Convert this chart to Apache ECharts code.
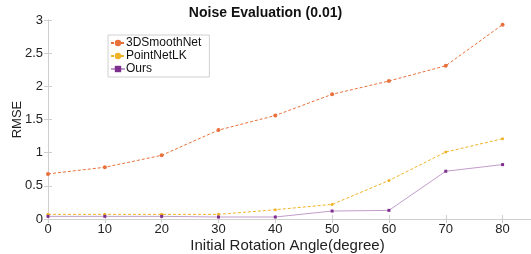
<!DOCTYPE html>
<html>
<head>
<meta charset="utf-8">
<script src="https://cdn.jsdelivr.net/npm/echarts@6/dist/echarts.min.js"></script>
<style>
  html, body { margin: 0; padding: 0; background: #fff; }
  #chart { width: 531px; height: 254px; }
</style>
</head>
<body>
<div id="chart"></div>
<script>
const angles = [0, 10, 20, 30, 40, 50, 60, 70, 80];
const smoothNet = [0.68, 0.78, 0.96, 1.34, 1.56, 1.88, 2.08, 2.31, 2.93];
const pointNetLK = [0.07, 0.07, 0.07, 0.07, 0.14, 0.22, 0.58, 1.01, 1.21];
const ours = [0.04, 0.04, 0.04, 0.03, 0.03, 0.12, 0.13, 0.72, 0.82];

const pairs = vals => angles.map((a, i) => [a, vals[i]]);
const font = 'Liberation Sans, Arial, sans-serif';
const axisCol = '#cfcfcf';

const chart = echarts.init(document.getElementById('chart'));
chart.setOption({
  animation: false,
  title: {
    text: 'Noise Evaluation (0.01)',
    left: 'center',
    top: 1,
    textStyle: { fontFamily: font, fontSize: 14, fontWeight: 'bold', color: '#111' }
  },
  legend: {
    left: 108,
    top: 35,
    orient: 'vertical',
    itemWidth: 14,
    itemHeight: 8,
    itemGap: 1,
    padding: [2, 8, 2, 2],
    borderColor: '#d0d0d0',
    borderWidth: 1,
    backgroundColor: '#fff',
    textStyle: { fontFamily: font, fontSize: 12, lineHeight: 12, color: '#111', padding: [0, 0, 0, -4] },
    data: ['3DSmoothNet', 'PointNetLK', 'Ours']
  },
  grid: { left: 48, right: 0, top: 20, bottom: 35, outerBoundsMode: 'none' },
  xAxis: [{
    type: 'value', min: 0, max: 85, interval: 10,
    name: 'Initial Rotation Angle(degree)',
    nameLocation: 'middle', nameGap: 19, nameMoveOverlap: false,
    nameTextStyle: { fontFamily: font, fontSize: 15, color: '#222', padding: [0, 4, 0, 0] },
    axisLine: { lineStyle: { color: axisCol } },
    axisTick: { inside: true, length: 4, lineStyle: { color: axisCol } },
    axisLabel: { fontFamily: font, fontSize: 13, color: '#222', margin: 4, showMaxLabel: false },
    splitLine: { show: false }
  }, {
    type: 'value', min: 0, max: 85, interval: 10, position: 'top',
    axisLine: { lineStyle: { color: axisCol } },
    axisTick: { inside: true, length: 4, lineStyle: { color: axisCol } },
    axisLabel: { show: false },
    splitLine: { show: false }
  }],
  yAxis: [{
    type: 'value', min: 0, max: 3, interval: 0.5,
    name: 'RMSE', nameLocation: 'middle', nameGap: 24, nameMoveOverlap: false,
    nameTextStyle: { fontFamily: font, fontSize: 13, color: '#222' },
    axisLine: { show: true, lineStyle: { color: axisCol } },
    axisTick: { show: true, inside: true, length: 4, lineStyle: { color: axisCol } },
    axisLabel: { fontFamily: font, fontSize: 13, color: '#222', margin: 5 },
    splitLine: { show: false }
  }, {
    type: 'value', min: 0, max: 3, interval: 0.5, position: 'right',
    axisLine: { show: true, lineStyle: { color: axisCol } },
    axisTick: { show: true, inside: true, length: 4, lineStyle: { color: axisCol } },
    axisLabel: { show: false },
    splitLine: { show: false }
  }],
  series: [
    {
      name: '3DSmoothNet', type: 'line', data: pairs(smoothNet),
      symbol: 'circle', symbolSize: 4,
      lineStyle: { color: '#e8703a', width: 1, type: [3, 2] },
      itemStyle: { color: '#e8703a' }
    },
    {
      name: 'PointNetLK', type: 'line', data: pairs(pointNetLK),
      symbol: 'circle', symbolSize: 3,
      lineStyle: { color: '#efb325', width: 1, type: [3, 2] },
      itemStyle: { color: '#efb325' }
    },
    {
      name: 'Ours', type: 'line', data: pairs(ours),
      symbol: 'rect', symbolSize: 3,
      lineStyle: { color: '#c29ccb', width: 1 },
      itemStyle: { color: '#7e2f8e' }
    }
  ]
});
</script>
</body>
</html>
